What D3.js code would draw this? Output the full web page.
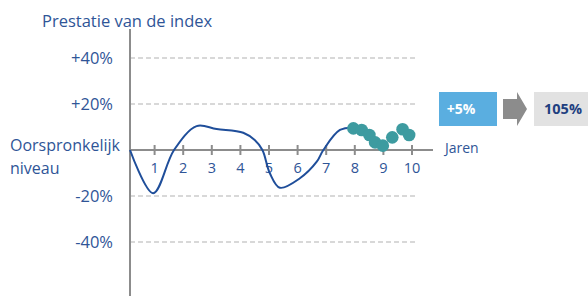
<!DOCTYPE html>
<html>
<head>
<meta charset="utf-8">
<script src="https://cdn.jsdelivr.net/npm/d3@7"></script>
<style>
  body { margin: 0; background: #fff; }
  text { font-family: "Open Sans", "Noto Sans", sans-serif; }
</style>
</head>
<body>
<div id="chart"></div>
<script>
// performance curve of the index (years, % change)
const curveYears  = [0.14, 0.95, 1.68, 2.47, 3.17, 4.1, 4.5, 4.77, 5.03, 5.38, 6.08, 6.67, 6.9, 7.48, 7.98];
const curveValues = [0, -18.8, 0, 10.4, 9.1, 7.5, 4.3, 0, -10.1, -16.4, -12.3, -5.1, 0, 8.7, 9.7];

// last part shown as dots
const dotYears  = [7.95, 8.24, 8.51, 8.71, 8.98, 9.31, 9.67, 9.9];
const dotValues = [9.4, 8.7, 6.5, 3.3, 1.9, 5.5, 9.0, 6.5];

const xTicks = [1, 2, 3, 4, 5, 6, 7, 8, 9, 10];
const yTicks = [40, 20, -20, -40];
const yTickLabels = ["+40%", "+20%", "-20%", "-40%"];

const resultLabels = ["+5%", "105%"];

const svgWidth = 588;
const svgHeight = 296;
const blue = "#2f5597";

const svg = d3.select("#chart")
    .append("svg")
    .attr("width", svgWidth)
    .attr("height", svgHeight);

const x = d3.scaleLinear()
    .domain([0, 10])
    .range([126, 412]);

const y = d3.scaleLinear()
    .domain([-40, 40])
    .range([242, 58]);

const x0 = x(0.14);

// dashed grid
svg.selectAll(".grid")
    .data(yTicks)
    .join("line")
    .attr("class", "grid")
    .attr("x1", x0)
    .attr("x2", 418)
    .attr("y1", d => y(d))
    .attr("y2", d => y(d))
    .attr("stroke", "#cccccc")
    .attr("stroke-width", 1.5)
    .attr("stroke-dasharray", "5,3");

// y tick labels
svg.selectAll(".ylab")
    .data(yTicks)
    .join("text")
    .attr("class", "ylab")
    .attr("x", 113)
    .attr("y", d => y(d))
    .attr("dy", "0.35em")
    .attr("text-anchor", "end")
    .attr("fill", blue)
    .attr("font-size", 16.5)
    .text((d, i) => yTickLabels[i]);

// vertical axis
svg.append("line")
    .attr("x1", x0).attr("x2", x0)
    .attr("y1", 29).attr("y2", svgHeight)
    .attr("stroke", "#8c8c8c")
    .attr("stroke-width", 2);

// horizontal (zero) axis
svg.append("line")
    .attr("x1", x0).attr("x2", 433)
    .attr("y1", y(0)).attr("y2", y(0))
    .attr("stroke", "#8c8c8c")
    .attr("stroke-width", 2);

svg.selectAll(".xtick")
    .data(xTicks)
    .join("line")
    .attr("class", "xtick")
    .attr("x1", d => x(d)).attr("x2", d => x(d))
    .attr("y1", y(0) - 5).attr("y2", y(0) + 5)
    .attr("stroke", "#8c8c8c")
    .attr("stroke-width", 2);

svg.selectAll(".xlab")
    .data(xTicks)
    .join("text")
    .attr("class", "xlab")
    .attr("x", d => x(d))
    .attr("y", y(0) + 18)
    .attr("dy", "0.35em")
    .attr("text-anchor", "middle")
    .attr("fill", blue)
    .attr("font-size", 14.5)
    .text(d => d);

// titles
svg.append("text")
    .attr("x", 42).attr("y", 27)
    .attr("fill", blue)
    .attr("font-size", 16.5)
    .text("Prestatie van de index");

svg.append("text")
    .attr("x", 10).attr("y", 151)
    .attr("fill", blue)
    .attr("font-size", 16)
    .text("Oorspronkelijk");

svg.append("text")
    .attr("x", 10).attr("y", 174)
    .attr("fill", blue)
    .attr("font-size", 16)
    .text("niveau");

svg.append("text")
    .attr("x", 445).attr("y", y(0) + 3)
    .attr("fill", blue)
    .attr("font-size", 14)
    .text("Jaren");

// the line
const line = d3.line()
    .x(d => x(d[0]))
    .y(d => y(d[1]))
    .curve(d3.curveCatmullRom.alpha(0.5));

svg.append("path")
    .datum(d3.zip(curveYears, curveValues))
    .attr("d", line)
    .attr("fill", "none")
    .attr("stroke", "#1f4e9a")
    .attr("stroke-width", 2);

svg.selectAll(".dot")
    .data(d3.zip(dotYears, dotValues))
    .join("circle")
    .attr("class", "dot")
    .attr("cx", d => x(d[0]))
    .attr("cy", d => y(d[1]))
    .attr("r", 6.3)
    .attr("fill", "#3d9ba0");

// result boxes
svg.append("rect")
    .attr("x", 439).attr("y", 92)
    .attr("width", 58).attr("height", 34)
    .attr("fill", "#5aaee0");

svg.append("text")
    .attr("x", 461).attr("y", 109)
    .attr("dy", "0.35em")
    .attr("text-anchor", "middle")
    .attr("fill", "#fff")
    .attr("font-weight", "bold")
    .attr("font-size", 14)
    .text(resultLabels[0]);

svg.append("path")
    .attr("d", "M503,99 L517,99 L517,92 L527,109 L517,126 L517,119 L503,119 Z")
    .attr("fill", "#8c8c8c");

svg.append("rect")
    .attr("x", 534).attr("y", 92)
    .attr("width", 54).attr("height", 34)
    .attr("fill", "#e2e2e2");

svg.append("text")
    .attr("x", 563).attr("y", 109)
    .attr("dy", "0.35em")
    .attr("text-anchor", "middle")
    .attr("fill", "#1f3f80")
    .attr("font-weight", "bold")
    .attr("font-size", 14.5)
    .text(resultLabels[1]);
</script>
</body>
</html>
